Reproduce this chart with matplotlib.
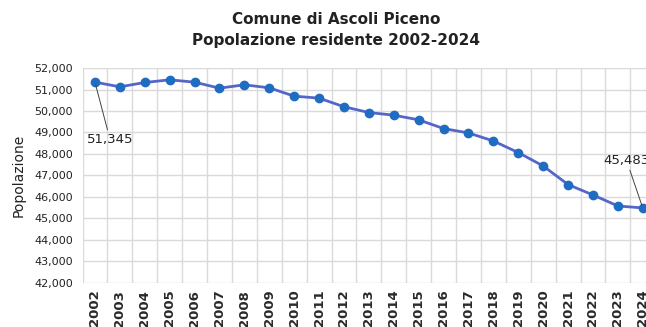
import matplotlib
matplotlib.use("Agg")
import matplotlib.pyplot as plt
from matplotlib.ticker import FuncFormatter, MultipleLocator, FixedLocator
from matplotlib import font_manager
import numpy as np

years = [str(y) for y in range(2002, 2025)]
population = [51345, 51128, 51329, 51454, 51345, 51065, 51221, 51081, 50693, 50600,
              50200, 49930, 49806, 49590, 49183, 48978, 48605, 48065, 47440, 46573,
              46089, 45576, 45483]
title_lines = ["Comune di Ascoli Piceno", "Popolazione residente 2002-2024"]
y_label = "Popolazione"

names = {f.name for f in font_manager.fontManager.ttflist}
narrow = "Liberation Sans Narrow" if "Liberation Sans Narrow" in names else "DejaVu Sans"
title_size = 14 if narrow == "Liberation Sans Narrow" else 11

W, H = 646, 327
fig = plt.figure(figsize=(W / 100, H / 100), dpi=100)
fig.patch.set_facecolor("white")

left_px, right_px = 82.5, 655.2
top_px, bottom_px = 68.1, 282.7
ax = fig.add_axes([left_px / W, (H - bottom_px) / H,
                   (right_px - left_px) / W, (bottom_px - top_px) / H])

x = np.arange(len(years))
ax.plot(x, population, color="#5566C8", lw=2.0, zorder=3,
        marker="o", markersize=6, markerfacecolor="#1F6DC2",
        markeredgecolor="#1F6DC2", clip_on=False)

ax.set_xlim(-0.5, len(years) - 0.5)
ax.set_ylim(42000, 52000)
ax.yaxis.set_major_locator(MultipleLocator(1000))
ax.yaxis.set_major_formatter(FuncFormatter(lambda v, p: f"{int(v):,}"))
ax.set_xticks(x)
ax.set_xticklabels(years, rotation=90, fontsize=9.5, fontweight="bold", color="#2a2a2a")
ax.xaxis.set_minor_locator(FixedLocator(np.arange(-0.5, len(years), 1.0)))
ax.grid(which="minor", axis="x", color="#DADADA", lw=1.0)
ax.grid(which="major", axis="y", color="#DADADA", lw=1.0)
ax.tick_params(axis="x", which="both", length=0, pad=5)
ax.tick_params(axis="y", length=0, pad=7, labelsize=8, labelcolor="#222222")
for s in ax.spines.values():
    s.set_visible(False)
ax.set_axisbelow(True)

ax.set_ylabel(y_label, fontsize=10, color="#222222")
ax.yaxis.set_label_coords(-(82.5 - 26) / (right_px - left_px), 0.5)

fig.text(336 / W, 1 - 19 / H, title_lines[0], ha="center", va="center",
         fontsize=title_size, fontweight="bold", color="#222222", family=narrow)
fig.text(336 / W, 1 - 41 / H, title_lines[1], ha="center", va="center",
         fontsize=title_size, fontweight="bold", color="#222222", family=narrow)

ax.annotate(f"{population[0]:,}", xy=(x[0], population[0]), xytext=(15, -57),
            textcoords="offset pixels", ha="center", va="center", fontsize=9.5,
            color="#222222", annotation_clip=False,
            arrowprops=dict(arrowstyle="-", color="#444444", lw=0.7,
                            shrinkA=0, shrinkB=2))
ax.annotate(f"{population[-1]:,}", xy=(x[-1], population[-1]), xytext=(-16, 47),
            textcoords="offset pixels", ha="center", va="center", fontsize=9.5,
            color="#222222", annotation_clip=False,
            arrowprops=dict(arrowstyle="-", color="#444444", lw=0.7,
                            shrinkA=0, shrinkB=2))

fig.savefig("out.png", dpi=100)
